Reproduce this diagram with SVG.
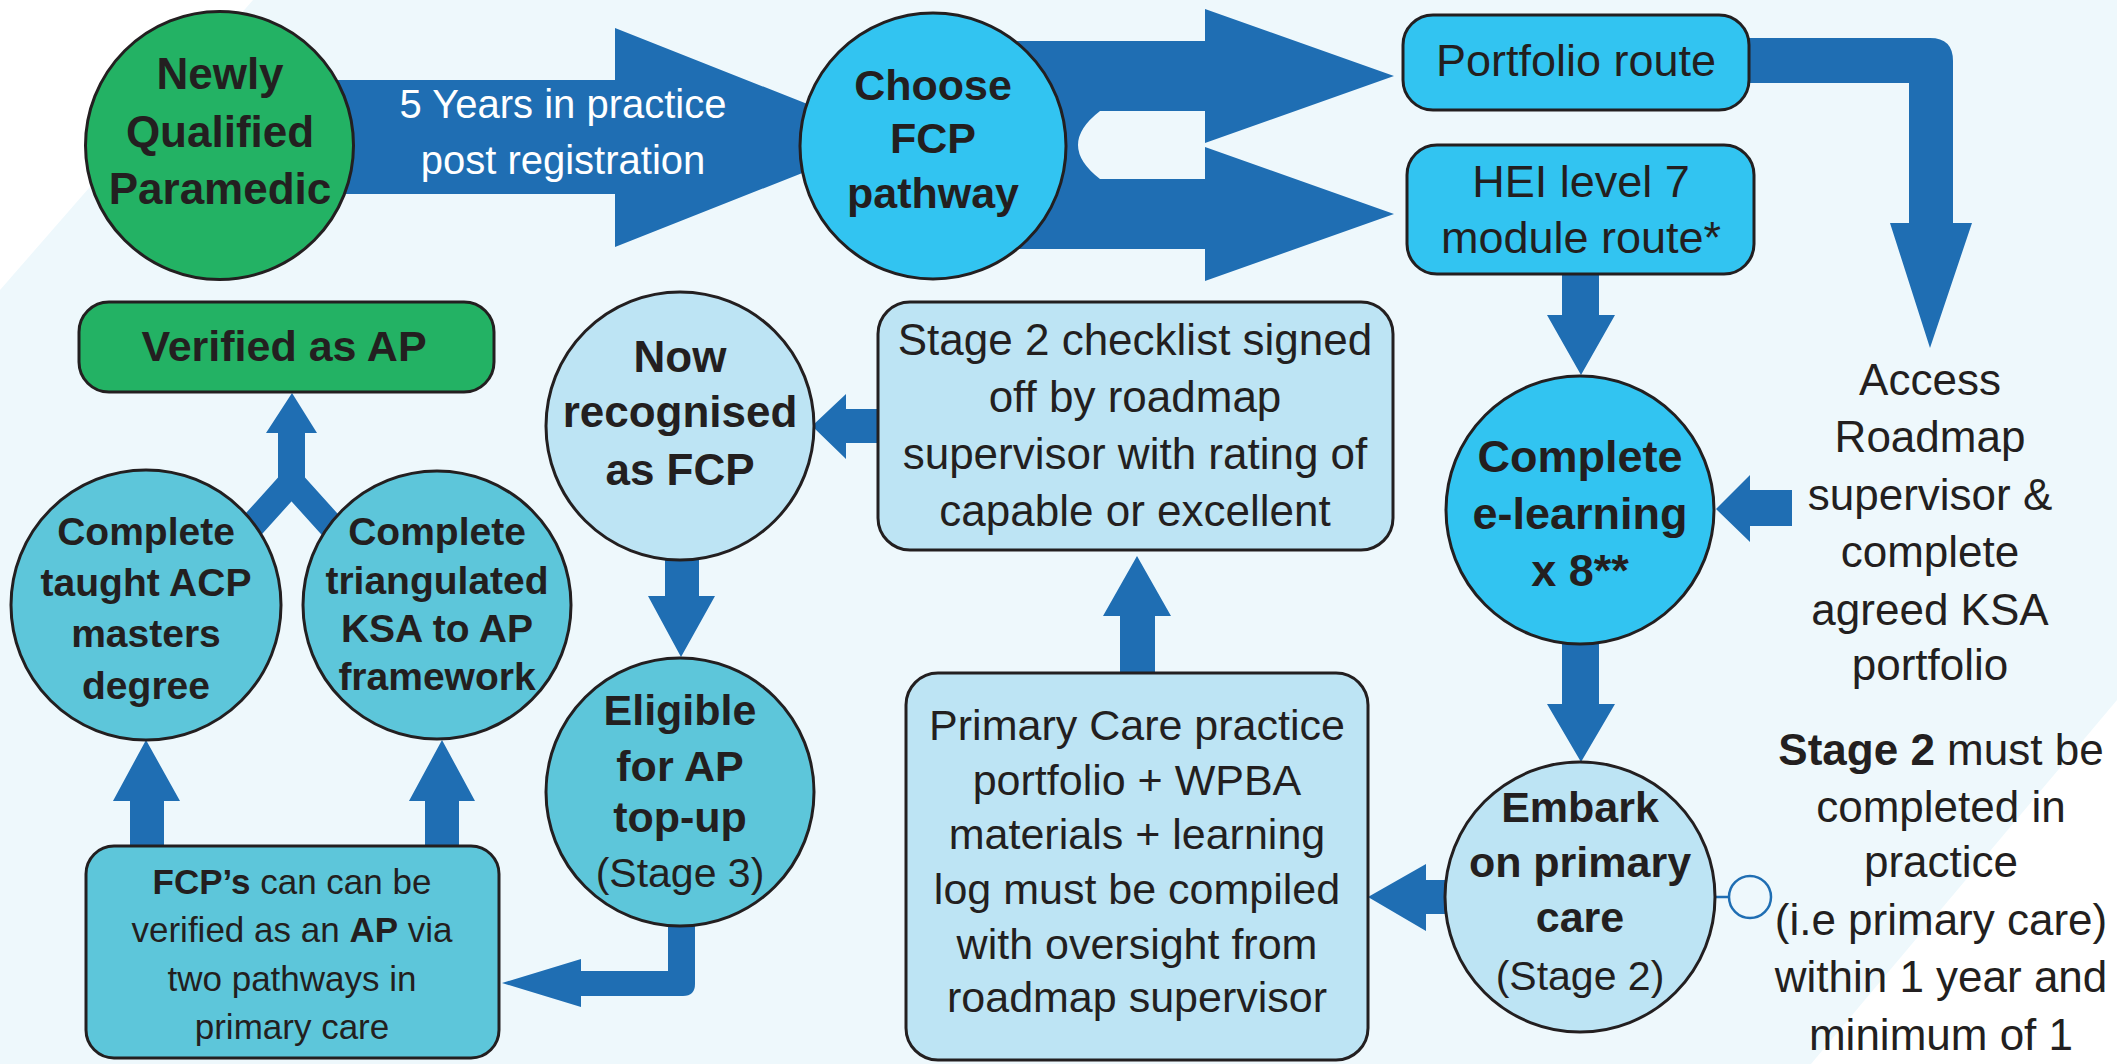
<svg xmlns="http://www.w3.org/2000/svg" width="2117" height="1064" viewBox="0 0 2117 1064">
<style>
.t{font-family:"Liberation Sans",Arial,sans-serif;fill:#231f20;text-anchor:middle}
.b{font-weight:bold}
.w{fill:#ffffff}
.node{stroke:#231f20;stroke-width:3}
.green{fill:#23b264}
.cyan{fill:#32c4f1}
.light{fill:#bde4f4}
.teal{fill:#5dc6da}
.arrow{fill:#1f6eb3}
</style>
<rect width="2117" height="1064" fill="#ffffff"/>
<polygon points="253,0 2117,0 2117,700 1811,1064 0,1064 0,290" fill="#eef8fc"/>
<g id="connectors">
<path class="arrow" d="M338,80 H615 V28 L892,137.5 L615,247 V194 H338 Z"/>
<path class="arrow" d="M990,41 H1205 V9 L1394,76 L1205,143 V111 H1100 Q1056,145 1100,179 H1205 V147 L1394,214 L1205,281 V249 H990 Z"/>
<path class="arrow" d="M1745,38 H1930 Q1953,38 1953,61 V223 H1972 L1930,348 L1890,223 H1909 V83 H1745 Z"/>
<path class="arrow" d="M1562,270 H1599 V315 H1615 L1581,375 L1547,315 H1562 Z"/>
<path class="arrow" d="M1792,490 V526 H1750 V542 L1716,509 L1750,475 V490 Z"/>
<path class="arrow" d="M1562,640 H1599 V704 H1615 L1581,762 L1547,704 H1562 Z"/>
<path class="arrow" d="M1450,880 V914 H1426 V931 L1368,897 L1426,864 V880 Z"/>
<line x1="1714" y1="897" x2="1729" y2="897" stroke="#1f6eb3" stroke-width="2.5"/>
<circle cx="1750" cy="897" r="21" fill="none" stroke="#1f6eb3" stroke-width="2.5"/>
<path class="arrow" d="M1120,675 V616 H1103 L1137,556 L1171,616 H1155 V675 Z"/>
<path class="arrow" d="M880,409 V443 H846 V459 L812,426 L846,394 V409 Z"/>
<path class="arrow" d="M665,555 H699 V596 H715 L681,657 L648,596 H665 Z"/>
<path class="arrow" d="M668,920 H695 V984 Q695,996 683,996 H581 V1007 L502,983 L581,959 V971 H668 Z"/>
<path class="arrow" d="M130,850 V801 H113 L146,740 L180,801 H164 V850 Z"/>
<path class="arrow" d="M425,850 V801 H409 L442,740 L475,801 H459 V850 Z"/>
<path d="M231,549 L291.5,482 L352,549" fill="none" stroke="#1f6eb3" stroke-width="26"/>
<path class="arrow" d="M278,486 V433 H266 L292,393 L317,433 H305 V486 Z"/>
</g>
<g id="label-5years">
<text class="t w" font-size="40" x="563" y="118">5 Years in practice</text>
<text class="t w" font-size="40" x="563" y="174">post registration</text>
</g>
<g id="node-nqp">
<circle class="node green" cx="219.5" cy="145.5" r="134"/>
<text class="t b" font-size="44" x="220" y="89">Newly</text>
<text class="t b" font-size="44" x="220" y="147">Qualified</text>
<text class="t b" font-size="44" x="220" y="204">Paramedic</text>
</g>
<g id="node-choose">
<circle class="node cyan" cx="933" cy="146" r="133"/>
<text class="t b" font-size="43" x="933" y="100">Choose</text>
<text class="t b" font-size="43" x="933" y="153">FCP</text>
<text class="t b" font-size="43" x="933" y="208">pathway</text>
</g>
<g id="node-portfolio">
<rect class="node cyan" x="1403" y="15" width="346" height="95" rx="30"/>
<text class="t" font-size="45" x="1576" y="76">Portfolio route</text>
</g>
<g id="node-hei">
<rect class="node cyan" x="1407" y="145" width="347" height="129" rx="30"/>
<text class="t" font-size="45" x="1581" y="197">HEI level 7</text>
<text class="t" font-size="45" x="1581" y="253">module route*</text>
</g>
<g id="node-access">
<text class="t" font-size="44" x="1930" y="395">Access</text>
<text class="t" font-size="44" x="1930" y="452">Roadmap</text>
<text class="t" font-size="44" x="1930" y="510">supervisor &amp;</text>
<text class="t" font-size="44" x="1930" y="567">complete</text>
<text class="t" font-size="44" x="1930" y="625">agreed KSA</text>
<text class="t" font-size="44" x="1930" y="680">portfolio</text>
</g>
<g id="node-elearning">
<circle class="node cyan" cx="1580" cy="510" r="134"/>
<text class="t b" font-size="45" x="1580" y="472">Complete</text>
<text class="t b" font-size="45" x="1580" y="529">e-learning</text>
<text class="t b" font-size="45" x="1580" y="586">x 8**</text>
</g>
<g id="node-embark">
<circle class="node light" cx="1580" cy="897" r="135"/>
<text class="t b" font-size="43" x="1580" y="822">Embark</text>
<text class="t b" font-size="43" x="1580" y="877">on primary</text>
<text class="t b" font-size="43" x="1580" y="932">care</text>
<text class="t" font-size="41" x="1580" y="990">(Stage 2)</text>
</g>
<g id="note-stage2">
<text class="t" font-size="44" x="1941" y="765"><tspan font-weight="bold">Stage 2</tspan> must be</text>
<text class="t" font-size="44" x="1941" y="822">completed in</text>
<text class="t" font-size="44" x="1941" y="877">practice</text>
<text class="t" font-size="44" x="1941" y="935">(i.e primary care)</text>
<text class="t" font-size="44" x="1941" y="992">within 1 year and</text>
<text class="t" font-size="44" x="1941" y="1050">minimum of 1</text>
</g>
<g id="node-checklist">
<rect class="node light" x="878" y="302" width="515" height="248" rx="32"/>
<text class="t" font-size="44" x="1135" y="355">Stage 2 checklist signed</text>
<text class="t" font-size="44" x="1135" y="412">off by roadmap</text>
<text class="t" font-size="44" x="1135" y="469">supervisor with rating of</text>
<text class="t" font-size="44" x="1135" y="526">capable or excellent</text>
</g>
<g id="node-primary">
<rect class="node light" x="906" y="673" width="462" height="387" rx="32"/>
<text class="t" font-size="43" x="1137" y="740">Primary Care practice</text>
<text class="t" font-size="43" x="1137" y="795">portfolio + WPBA</text>
<text class="t" font-size="43" x="1137" y="849">materials + learning</text>
<text class="t" font-size="43" x="1137" y="904">log must be compiled</text>
<text class="t" font-size="43" x="1137" y="959">with oversight from</text>
<text class="t" font-size="43" x="1137" y="1012">roadmap supervisor</text>
</g>
<g id="node-now">
<circle class="node light" cx="680" cy="426" r="134"/>
<text class="t b" font-size="44" x="680" y="372">Now</text>
<text class="t b" font-size="44" x="680" y="427">recognised</text>
<text class="t b" font-size="44" x="680" y="485">as FCP</text>
</g>
<g id="node-eligible">
<circle class="node teal" cx="680" cy="792" r="134"/>
<text class="t b" font-size="43" x="680" y="725">Eligible</text>
<text class="t b" font-size="43" x="680" y="781">for AP</text>
<text class="t b" font-size="43" x="680" y="832">top-up</text>
<text class="t" font-size="41" x="680" y="887">(Stage 3)</text>
</g>
<g id="node-verified">
<rect class="node green" x="79" y="302" width="415" height="90" rx="30"/>
<text class="t b" font-size="43" x="284" y="361">Verified as AP</text>
</g>
<g id="node-taught">
<circle class="node teal" cx="146" cy="605" r="135"/>
<text class="t b" font-size="39" x="146" y="545">Complete</text>
<text class="t b" font-size="39" x="146" y="596">taught ACP</text>
<text class="t b" font-size="39" x="146" y="647">masters</text>
<text class="t b" font-size="39" x="146" y="699">degree</text>
</g>
<g id="node-triangulated">
<circle class="node teal" cx="437" cy="605" r="134"/>
<text class="t b" font-size="39" x="437" y="545">Complete</text>
<text class="t b" font-size="39" x="437" y="594">triangulated</text>
<text class="t b" font-size="39" x="437" y="642">KSA to AP</text>
<text class="t b" font-size="39" x="437" y="690">framework</text>
</g>
<g id="node-fcps">
<rect class="node teal" x="86" y="846" width="413" height="212" rx="28"/>
<text class="t" font-size="35" x="292" y="894"><tspan font-weight="bold">FCP’s</tspan> can can be</text>
<text class="t" font-size="35" x="292" y="942">verified as an <tspan font-weight="bold">AP</tspan> via</text>
<text class="t" font-size="35" x="292" y="991">two pathways in</text>
<text class="t" font-size="35" x="292" y="1039">primary care</text>
</g>
</svg>
